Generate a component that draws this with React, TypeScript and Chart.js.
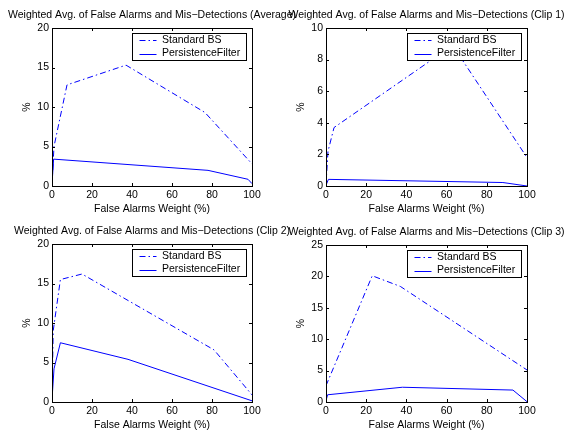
import React, { useEffect, useRef } from "react";
import { Chart, registerables } from "chart.js";

Chart.register(...registerables);

const W = 569;
const H = 430;
const FONT = '"Liberation Sans", Arial, Helvetica, sans-serif';
const FS = 10.5;

// ---- data ----
const seriesNames = ["Standard BS", "PersistenceFilter"];
const xLabel = "False Alarms Weight (%)";
const yLabel = "%";
const xTickValues = [0, 20, 40, 60, 80, 100];

const titleAvg = "Weighted Avg. of False Alarms and Mis\u2212Detections (Average)";
const titleClip1 = "Weighted Avg. of False Alarms and Mis\u2212Detections (Clip 1)";
const titleClip2 = "Weighted Avg. of False Alarms and Mis\u2212Detections (Clip 2)";
const titleClip3 = "Weighted Avg. of False Alarms and Mis\u2212Detections (Clip 3)";

const avgStdX = [0, 1, 7.5, 37, 76.5, 100];
const avgStdY = [0.3, 5, 12.8, 15.3, 9.3, 2.8];
const avgPfX = [0, 0.8, 78, 98, 100];
const avgPfY = [0.2, 3.4, 1.98, 0.85, 0.3];

const c1StdX = [0, 1, 4, 63, 100];
const c1StdY = [0.1, 2.2, 3.7, 8.9, 1.8];
const c1PfX = [0, 1.2, 88, 100];
const c1PfY = [0.05, 0.42, 0.22, 0.0];

const c2StdX = [0, 0.6, 4.2, 15, 81, 100];
const c2StdY = [0.5, 9, 15.5, 16.2, 6.6, 0.9];
const c2PfX = [0, 1, 4.2, 38, 100];
const c2PfY = [0.3, 4.2, 7.5, 5.4, 0.15];

const c3StdX = [0, 23, 37, 100];
const c3StdY = [2.6, 20.1, 18.4, 5.1];
const c3PfX = [0, 0.8, 38, 93, 100];
const c3PfY = [0.2, 1.15, 2.35, 1.9, 0.05];

const yMaxes = [20, 10, 20, 25];
const ySteps = [5, 2, 5, 5];

// ---- layout (plot areas) ----
const areas = [
  { left: 52, top: 28, right: 252, bottom: 186 },
  { left: 326, top: 28, right: 527, bottom: 186 },
  { left: 52, top: 244, right: 252, bottom: 402 },
  { left: 326, top: 245, right: 527, bottom: 402 },
];

const panels = [
  { title: titleAvg, sx: avgStdX, sy: avgStdY, px: avgPfX, py: avgPfY },
  { title: titleClip1, sx: c1StdX, sy: c1StdY, px: c1PfX, py: c1PfY },
  { title: titleClip2, sx: c2StdX, sy: c2StdY, px: c2PfX, py: c2PfY },
  { title: titleClip3, sx: c3StdX, sy: c3StdY, px: c3PfX, py: c3PfY },
];

const BLUE = "#0000ff";
const STD_DASH = [6, 3, 1.5, 3];

const matlabPlugin = {
  id: "matlab",
  afterDraw(chart: any, _args: any, opts: any) {
    const ctx = chart.ctx as CanvasRenderingContext2D;
    const a = chart.chartArea;
    const xs = chart.scales.x;
    const ys = chart.scales.y;
    ctx.save();
    ctx.strokeStyle = "#000";
    ctx.lineWidth = 1;
    ctx.setLineDash([]);
    // inward ticks
    const tl = 3;
    ctx.beginPath();
    xs.ticks.forEach((t: any) => {
      const p = Math.round(xs.getPixelForValue(t.value)) + 0.5;
      ctx.moveTo(p, a.bottom);
      ctx.lineTo(p, a.bottom - tl);
      ctx.moveTo(p, a.top);
      ctx.lineTo(p, a.top + tl);
    });
    ys.ticks.forEach((t: any) => {
      const p = Math.round(ys.getPixelForValue(t.value)) + 0.5;
      ctx.moveTo(a.left, p);
      ctx.lineTo(a.left + tl, p);
      ctx.moveTo(a.right, p);
      ctx.lineTo(a.right - tl, p);
    });
    ctx.stroke();
    // box
    ctx.strokeRect(a.left + 0.5, a.top + 0.5, a.right - a.left, a.bottom - a.top);

    // text
    ctx.fillStyle = "#000";
    ctx.font = `${FS}px ${FONT}`;
    ctx.textAlign = "center";
    ctx.textBaseline = "middle";
    const cx = (a.left + a.right) / 2;
    ctx.fillText(opts.title, cx, a.top - 12.5);
    ctx.fillText(opts.xLabel, cx, a.bottom + 23.5);
    ctx.save();
    ctx.translate(a.left - 25, (a.top + a.bottom) / 2);
    ctx.rotate(-Math.PI / 2);
    ctx.fillText(opts.yLabel, 0, 0);
    ctx.restore();

    // legend
    const lx = a.right - 119.5;
    const ly = a.top + 5.5;
    const lw = 114;
    const lh = 27;
    ctx.fillStyle = "#fff";
    ctx.fillRect(lx, ly, lw, lh);
    ctx.strokeStyle = "#000";
    ctx.lineWidth = 1;
    ctx.strokeRect(lx, ly, lw, lh);
    const rows = [ly + 6.5, ly + 20];
    chart.data.datasets.forEach((ds: any, i: number) => {
      const ry = Math.round(rows[i]) + 0.5;
      ctx.strokeStyle = BLUE;
      ctx.lineWidth = 1;
      ctx.setLineDash(ds.borderDash || []);
      ctx.beginPath();
      ctx.moveTo(lx + 7, ry);
      ctx.lineTo(lx + 24, ry);
      ctx.stroke();
      ctx.setLineDash([]);
      ctx.fillStyle = "#000";
      ctx.textAlign = "left";
      ctx.fillText(ds.label, lx + 29.5, rows[i]);
    });
    ctx.restore();
  },
};

function Panel({ idx }: { idx: number }) {
  const ref = useRef<HTMLCanvasElement>(null);
  useEffect(() => {
    const p = panels[idx];
    const area = areas[idx];
    const xAxisH = 20;
    const chart = new Chart(ref.current as HTMLCanvasElement, {
      type: "line",
      data: {
        datasets: [
          {
            label: seriesNames[0],
            data: p.sx.map((x, i) => ({ x, y: p.sy[i] })),
            borderColor: BLUE,
            borderWidth: 1,
            borderDash: STD_DASH,
            pointRadius: 0,
            fill: false,
            tension: 0,
          },
          {
            label: seriesNames[1],
            data: p.px.map((x, i) => ({ x, y: p.py[i] })),
            borderColor: BLUE,
            borderWidth: 1,
            pointRadius: 0,
            fill: false,
            tension: 0,
          },
        ],
      },
      options: {
        animation: false,
        responsive: false,
        devicePixelRatio: 1,
        events: [],
        layout: {
          padding: {
            left: 0,
            top: area.top,
            right: W - area.right,
            bottom: H - area.bottom - xAxisH,
          },
        },
        plugins: {
          legend: { display: false },
          title: { display: false },
          tooltip: { enabled: false },
          matlab: { title: p.title, xLabel, yLabel },
        } as any,
        scales: {
          x: {
            type: "linear",
            min: 0,
            max: 100,
            afterBuildTicks: (s: any) => {
              s.ticks = xTickValues.map((v) => ({ value: v }));
            },
            grid: { display: false, drawTicks: false },
            border: { display: false },
            ticks: {
              font: { family: FONT, size: FS },
              color: "#000",
              padding: 3,
              maxRotation: 0,
              autoSkip: false,
            },
            afterFit: (s: any) => {
              s.height = xAxisH;
            },
          },
          y: {
            type: "linear",
            min: 0,
            max: yMaxes[idx],
            grid: { display: false, drawTicks: false },
            border: { display: false },
            ticks: {
              stepSize: ySteps[idx],
              font: { family: FONT, size: FS },
              color: "#000",
              padding: 3,
            },
            afterFit: (s: any) => {
              s.width = area.left;
            },
          },
        },
      },
      plugins: [matlabPlugin],
    });
    return () => chart.destroy();
  }, [idx]);
  return (
    <canvas
      ref={ref}
      width={W}
      height={H}
      style={{ position: "absolute", left: 0, top: 0, width: W, height: H }}
    />
  );
}

export default function App() {
  return (
    <div
      style={{
        position: "absolute",
        left: 0,
        top: 0,
        width: W,
        height: H,
        background: "#fff",
      }}
    >
      {panels.map((_, i) => (
        <Panel key={i} idx={i} />
      ))}
    </div>
  );
}
